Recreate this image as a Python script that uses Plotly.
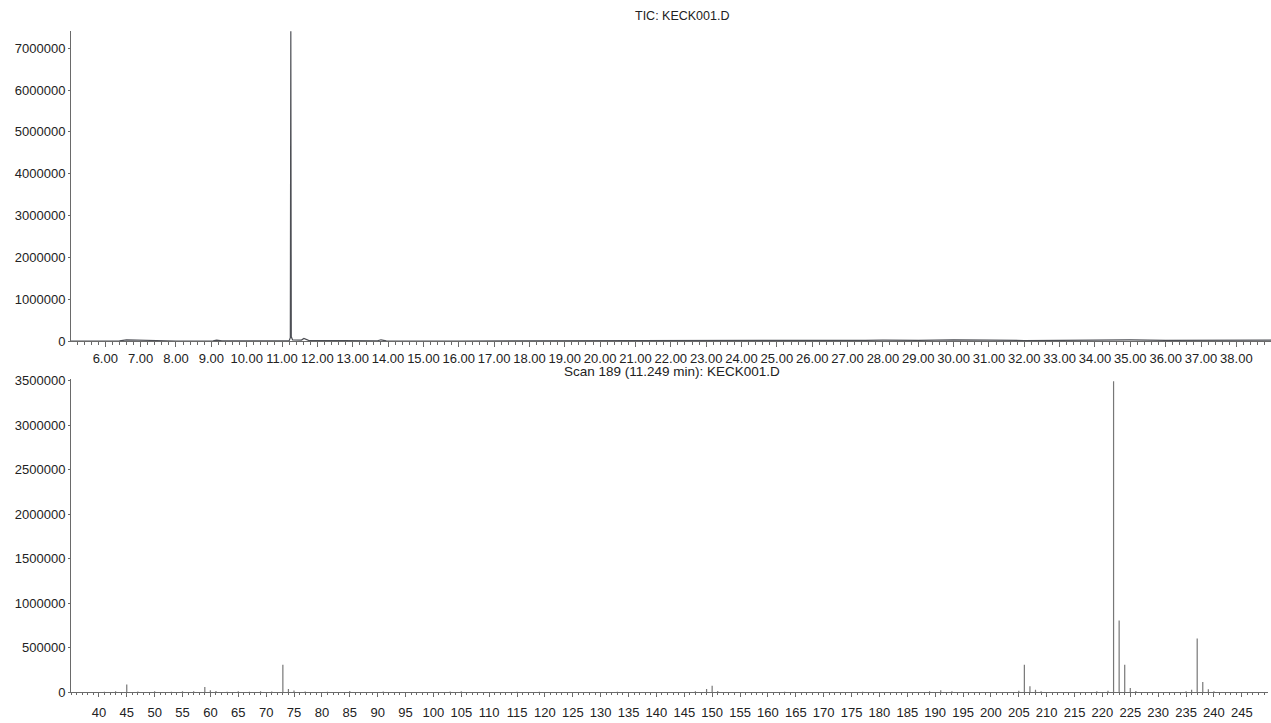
import plotly.graph_objects as go

# Total ion chromatogram (retention time in min, abundance)
tic_time = [5.00, 6.40, 6.60, 6.80, 7.00, 7.30, 8.00, 9.05, 9.15, 9.30, 10.50,
            11.20, 11.235, 11.249, 11.262, 11.30, 11.55, 11.62, 11.75, 12.50,
            13.70, 13.80, 13.95, 16.00, 20.00, 24.00, 26.50, 27.50, 28.00,
            29.00, 30.00, 30.50, 31.00, 32.00, 33.00, 34.00, 35.00, 36.00,
            37.00, 38.00, 39.00]
tic_abund = [6000, 12000, 35000, 30000, 26000, 15000, 9000, 12000, 28000, 10000, 8000,
             12000, 90000, 7400000, 110000, 35000, 30000, 70000, 25000, 14000,
             12000, 38000, 14000, 9000, 9000, 11000, 18000, 26000, 30000,
             24000, 38000, 42000, 30000, 20000, 28000, 26000, 34000, 24000,
             30000, 26000, 30000]

# Mass spectrum of scan 189 (m/z, abundance)
ms_mz = [41, 43, 45, 47, 50, 53, 55, 57, 59, 60, 61, 63, 65, 67, 69, 71, 73, 74, 75,
         77, 81, 85, 91, 103, 105, 115, 119, 133, 147, 149, 150, 151, 163, 177,
         189, 191, 193, 205, 206, 207, 208, 209, 219, 221, 222, 223, 224, 225,
         226, 235, 236, 237, 238, 239, 240]
ms_abund = [8000, 12000, 90000, 10000, 12000, 9000, 14000, 12000, 60000, 25000, 16000,
            9000, 12000, 9000, 14000, 10000, 310000, 40000, 22000,
            10000, 9000, 16000, 11000, 10000, 12000, 9000, 8000, 9000, 12000, 40000,
            75000, 15000, 8000, 9000, 14000, 26000, 12000, 18000, 310000, 70000,
            30000, 14000, 12000, 20000, 3490000, 806000, 310000, 50000,
            16000, 12000, 30000, 605000, 118000, 36000, 12000]

# Axis labels
rt_ticks = list(range(6, 39))
rt_ticktext = ["%.2f" % t for t in rt_ticks]
mz_ticks = list(range(40, 250, 5))
tic_yticks = [0, 1000000, 2000000, 3000000, 4000000, 5000000, 6000000, 7000000]
ms_yticks = [0, 500000, 1000000, 1500000, 2000000, 2500000, 3000000, 3500000]

W, H = 1271, 723
FONT = "Liberation Sans, Arial, sans-serif"
AX = "#6a6a6a"
TXT = "#222"

# stick spectrum: one vertical segment per m/z
stick_x, stick_y = [], []
for m, a in zip(ms_mz, ms_abund):
    stick_x += [m, m, None]
    stick_y += [0, a, None]

fig = go.Figure()
fig.add_trace(go.Scatter(x=tic_time, y=tic_abund, mode="lines",
                         line=dict(color="#4d4f55", width=1.2),
                         xaxis="x", yaxis="y", showlegend=False))
fig.add_trace(go.Scatter(x=stick_x, y=stick_y, mode="lines",
                         line=dict(color="#777777", width=1.2),
                         xaxis="x2", yaxis="y2", showlegend=False))

common_axis = dict(showgrid=False, zeroline=False, showline=True, linecolor=AX,
                   linewidth=1, ticks="outside", tickcolor=AX,
                   tickfont=dict(family=FONT, size=13, color=TXT))

fig.update_layout(
    width=W, height=H,
    margin=dict(l=0, r=0, t=0, b=0),
    paper_bgcolor="white", plot_bgcolor="white",
    xaxis=dict(common_axis, domain=[71 / W, 1.0], range=[5.03, 38.98],
               tickvals=rt_ticks, ticktext=rt_ticktext, ticklen=5, anchor="y",
               minor=dict(dtick=0.2, tick0=5, ticklen=3, ticks="outside",
                          tickcolor=AX, showgrid=False)),
    yaxis=dict(common_axis, domain=[1 - 342 / H, 1 - 25 / H], range=[0, 7420000],
               tickvals=tic_yticks, tickformat="d", ticklen=2, anchor="x"),
    xaxis2=dict(common_axis, domain=[71 / W, 1268 / W], range=[35.0, 249.7],
                tickvals=mz_ticks, ticklen=4, anchor="y2", ticklabelstandoff=4,
                minor=dict(dtick=1, tick0=35, ticklen=2, ticks="outside",
                           tickcolor=AX, showgrid=False)),
    yaxis2=dict(common_axis, domain=[1 - 700 / H, 1 - 380 / H], range=[0, 3520000],
                tickvals=ms_yticks, tickformat="d", ticklen=2, anchor="x2"),
    annotations=[
        dict(text="TIC: KECK001.D", x=682 / W, y=1 - 10 / H, xref="paper", yref="paper",
             showarrow=False, xanchor="center", yanchor="middle",
             font=dict(family=FONT, size=12.5, color=TXT)),
        dict(text="Scan 189 (11.249 min): KECK001.D", x=672 / W, y=1 - 373 / H,
             xref="paper", yref="paper", showarrow=False, xanchor="center",
             yanchor="middle", font=dict(family=FONT, size=13.5, color=TXT)),
    ],
)

fig.write_html("out.html")
